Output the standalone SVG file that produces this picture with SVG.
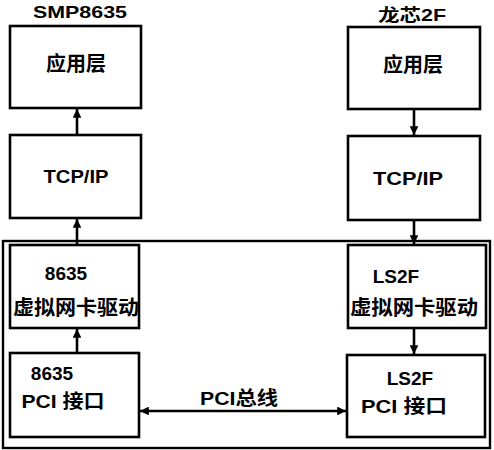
<svg xmlns="http://www.w3.org/2000/svg" width="494" height="450" viewBox="0 0 494 450">
<style>
.box{fill:#fff;stroke:#000;stroke-width:2.6}
.outer{fill:none;stroke:#000;stroke-width:2.4}
.ln{fill:none;stroke:#000;stroke-width:2.6}
text{font-family:"Liberation Sans","Noto Sans CJK SC",sans-serif;font-weight:bold;fill:#000;text-anchor:middle}
.cn{font-size:20px}
.en{font-size:19px}
.tt{font-size:17px}
</style>
<defs>
<marker id="ah" viewBox="0 0 10 10" refX="10" refY="5" markerWidth="3.4" markerHeight="3.4" orient="auto-start-reverse" markerUnits="strokeWidth">
<path d="M0,0 L10,5 L0,10 z" fill="#000"/>
</marker>
</defs>
<rect class="outer" x="3" y="241" width="487" height="207"/>
<text class="tt" x="80" y="18" textLength="94" lengthAdjust="spacingAndGlyphs">SMP8635</text>
<text class="tt" x="412" y="21" textLength="68" lengthAdjust="spacingAndGlyphs">龙芯2F</text>
<g id="app-l">
<rect class="box" x="10" y="26" width="131" height="82"/>
<text class="cn" x="76" y="71">应用层</text>
</g>
<g id="tcp-l">
<rect class="box" x="10" y="135" width="131" height="83"/>
<text class="en" x="76" y="183" textLength="65" lengthAdjust="spacingAndGlyphs">TCP/IP</text>
</g>
<g id="nic-l">
<rect class="box" x="10" y="245" width="129" height="83"/>
<text class="en" x="66" y="280">8635</text>
<text class="cn" x="76" y="315" textLength="126" lengthAdjust="spacingAndGlyphs">虚拟网卡驱动</text>
</g>
<g id="pci-l">
<rect class="box" x="10" y="353" width="129" height="84"/>
<text class="en" x="52" y="380">8635</text>
<text class="en" x="63" y="408" textLength="83" lengthAdjust="spacingAndGlyphs">PCI 接口</text>
</g>
<g id="app-r">
<rect class="box" x="348" y="27" width="132" height="82"/>
<text class="cn" x="413" y="72">应用层</text>
</g>
<g id="tcp-r">
<rect class="box" x="348" y="136" width="132" height="84"/>
<text class="en" x="408" y="185" textLength="70" lengthAdjust="spacingAndGlyphs">TCP/IP</text>
</g>
<g id="nic-r">
<rect class="box" x="348" y="245" width="138" height="83"/>
<text class="en" x="396" y="283">LS2F</text>
<text class="cn" x="414" y="315" textLength="128" lengthAdjust="spacingAndGlyphs">虚拟网卡驱动</text>
</g>
<g id="pci-r">
<rect class="box" x="347" y="355" width="138" height="82"/>
<text class="en" x="410" y="385">LS2F</text>
<text class="en" x="404" y="413" textLength="86" lengthAdjust="spacingAndGlyphs">PCI 接口</text>
</g>
<g id="connectors">
<line class="ln" x1="77" y1="135" x2="77" y2="109" marker-end="url(#ah)"/>
<line class="ln" x1="77" y1="245" x2="77" y2="219" marker-end="url(#ah)"/>
<line class="ln" x1="77" y1="353" x2="77" y2="329" marker-end="url(#ah)"/>
<line class="ln" x1="414" y1="109" x2="414" y2="135" marker-end="url(#ah)"/>
<line class="ln" x1="414" y1="220" x2="414" y2="244" marker-end="url(#ah)"/>
<line class="ln" x1="414" y1="328" x2="414" y2="354" marker-end="url(#ah)"/>
<line class="ln" x1="140" y1="411" x2="346" y2="411" marker-start="url(#ah)" marker-end="url(#ah)"/>
<text class="en" x="239" y="405" textLength="78" lengthAdjust="spacingAndGlyphs">PCI总线</text>
</g>
</svg>
